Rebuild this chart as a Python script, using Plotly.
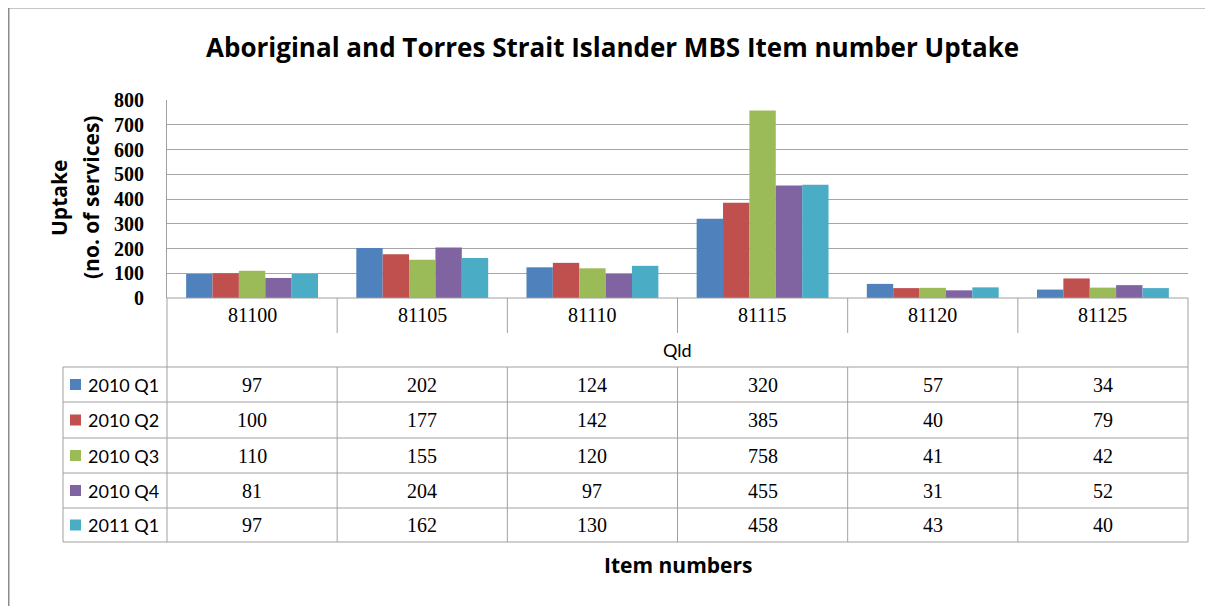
# Purpose: Recreate the Aboriginal and Torres Strait Islander MBS item uptake chart (Qld)

# Imports

import plotly.graph_objects as go


# Globals

item_numbers = ["81100", "81105", "81110", "81115", "81120", "81125"]
region_label = "Qld"

series_names = ["2010 Q1", "2010 Q2", "2010 Q3", "2010 Q4", "2011 Q1"]
q1_2010 = [97, 202, 124, 320, 57, 34]
q2_2010 = [100, 177, 142, 385, 40, 79]
q3_2010 = [110, 155, 120, 758, 41, 42]
q4_2010 = [81, 204, 97, 455, 31, 52]
q1_2011 = [97, 162, 130, 458, 43, 40]
series_values = [q1_2010, q2_2010, q3_2010, q4_2010, q1_2011]

y_tick_values = [0, 100, 200, 300, 400, 500, 600, 700, 800]

chart_title = "Aboriginal and Torres Strait Islander MBS Item number Uptake"
y_title_lines = ["Uptake", "(no. of services)"]
x_title = "Item numbers"

# Excel 2007 palette
colors = ["#4F81BD", "#C0504D", "#9BBB59", "#8064A2", "#4BACC6"]

# The page body adds an 8px margin, so the figure is drawn 8px smaller
PAGE_W, PAGE_H, OFFSET = 1213, 606, 8
W, H = PAGE_W - OFFSET, PAGE_H - OFFSET
SANS = "Open Sans"
LABEL = "Lato"
NUM = "Liberation Serif"
TEXT = "#000000"
GRID = "#A6A6A6"
TABLE_LINE = "#A0A0A0"
BORDER = "#8C8C8C"


# Utility functions

# Convert page pixels (as measured on the reference) to paper coordinates
def px_x(x):
    return (x - OFFSET) / W

def px_y(y):
    return 1 - (y - OFFSET) / H

def hline(x0, x1, y, xref="paper", color=TABLE_LINE, width=1):
    return dict(type="line", xref=xref, yref="paper", x0=x0, x1=x1,
                y0=px_y(y), y1=px_y(y), line=dict(color=color, width=width))

def vline(x, y0, y1, xref="paper", color=TABLE_LINE, width=1):
    return dict(type="line", xref=xref, yref="paper", x0=x, x1=x,
                y0=px_y(y0), y1=px_y(y1), line=dict(color=color, width=width))

def text_at(x, y, text, size, family, xref="paper", xanchor="center", bold=False, angle=0):
    return dict(x=x, y=px_y(y), xref=xref, yref="paper", text=text, showarrow=False,
                xanchor=xanchor, yanchor="middle", textangle=angle,
                font=dict(family=family, size=size, color=TEXT,
                          weight="bold" if bold else "normal"))


# Main script

def main():

    # Plot area in pixels
    left, right, top, bottom = 167, 1188, 100, 298
    table_left = 63
    row_edges = [367, 402, 438, 473, 508, 542]

    fig = go.Figure()

    # 1. Bars
    for name, values, color in zip(series_names, series_values, colors):
        fig.add_trace(go.Bar(x=item_numbers, y=values, name=name,
                             marker=dict(color=color, line=dict(width=0))))

    fig.update_layout(
        width=W, height=H,
        margin=dict(l=0, r=0, t=0, b=0, autoexpand=False),
        paper_bgcolor="white", plot_bgcolor="white",
        showlegend=False,
        barmode="group", bargap=0.225, bargroupgap=0,
        font=dict(family=SANS, color=TEXT),
    )

    fig.update_xaxes(type="category", domain=[px_x(left), px_x(right)],
                     range=[-0.5, len(item_numbers) - 0.5], automargin=False,
                     showticklabels=False, showgrid=False, zeroline=False, showline=False)
    fig.update_yaxes(domain=[px_y(bottom), px_y(top)], range=[0, 800], automargin=False,
                     tickvals=y_tick_values, ticks="", ticklabelstandoff=18,
                     tickfont=dict(family=NUM, size=20, color=TEXT, weight="bold"),
                     showgrid=True, gridcolor=GRID, gridwidth=1, zeroline=False,
                     showline=True, linecolor=TABLE_LINE, linewidth=1)

    shapes = []
    annotations = []

    # 2. Data table lines
    shapes.append(hline(px_x(left), px_x(right), bottom))
    for y in row_edges:
        shapes.append(hline(px_x(table_left), px_x(right), y))
    shapes.append(vline(px_x(table_left), row_edges[0], row_edges[-1]))
    shapes.append(vline(px_x(left), bottom, row_edges[-1]))
    shapes.append(vline(px_x(right), bottom, row_edges[-1]))
    for i in range(1, len(item_numbers)):
        shapes.append(vline(i - 0.5, bottom, 333, xref="x"))
        shapes.append(vline(i - 0.5, row_edges[0], row_edges[-1], xref="x"))

    # Chart border (left and top)
    shapes.append(vline(px_x(8.5), PAGE_H, 7.5, color=BORDER, width=2))
    shapes.append(hline(px_x(8.5), 1.0, 7.5, color=BORDER, width=2))

    # 3. Table text
    for i, item in enumerate(item_numbers):
        annotations.append(text_at(i, 315, item, 20, NUM, xref="x"))
    annotations.append(text_at(px_x((left + right) / 2), 350, region_label, 18, LABEL))

    for r, (name, values, color) in enumerate(zip(series_names, series_values, colors)):
        yc = (row_edges[r] + row_edges[r + 1]) / 2
        shapes.append(dict(type="rect", xref="paper", yref="paper",
                           x0=px_x(70), x1=px_x(81), y0=px_y(yc + 5.5), y1=px_y(yc - 5.5),
                           fillcolor=color, line=dict(width=0)))
        annotations.append(text_at(px_x(86), yc, name, 18, LABEL, xanchor="left"))
        for i, value in enumerate(values):
            annotations.append(text_at(i, yc, str(value), 20, NUM, xref="x"))

    # 4. Titles
    annotations.append(text_at(px_x(612), 47, chart_title, 26, SANS, bold=True))
    annotations.append(text_at(px_x((left + right) / 2), 565, x_title, 21, SANS, bold=True))
    for line_text, xc in zip(y_title_lines, [59, 91]):
        annotations.append(text_at(px_x(xc), 198, line_text, 21, SANS, bold=True, angle=-90))

    fig.update_layout(shapes=shapes, annotations=annotations)
    fig.write_html("out.html")


if "__main__" == __name__:
    main()
